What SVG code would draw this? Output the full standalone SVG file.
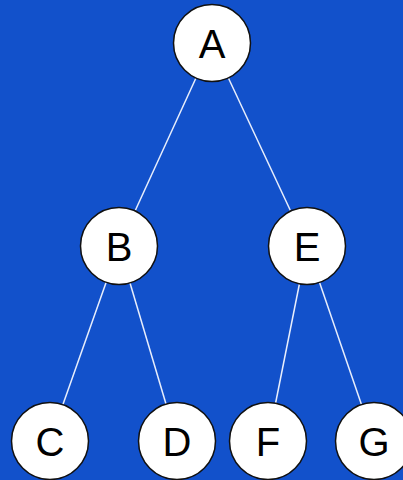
<svg xmlns="http://www.w3.org/2000/svg" width="403" height="480" viewBox="0 0 403 480">
  <style>
    .edge { stroke: #e8eefc; stroke-width: 1.5; fill: none; }
    .node circle { fill: #ffffff; stroke: #111111; stroke-width: 1.5; }
    .node text { font-family: "Liberation Sans", Arial, sans-serif; font-size: 40px; fill: #000000; text-anchor: middle; dominant-baseline: central; }
  </style>
  <rect x="0" y="0" width="403" height="480" fill="#1251cb"/>
  <g id="connectors">
    <line class="edge" x1="212" y1="43" x2="119" y2="246"/>
    <line class="edge" x1="212" y1="43" x2="307" y2="246"/>
    <line class="edge" x1="119" y1="246" x2="50" y2="441"/>
    <line class="edge" x1="119" y1="246" x2="177" y2="441"/>
    <line class="edge" x1="307" y1="246" x2="268" y2="441"/>
    <line class="edge" x1="307" y1="246" x2="374" y2="441"/>
  </g>
  <g id="node-A" class="node"><circle cx="212" cy="43" r="38.5"/><text x="212" y="44">A</text></g>
  <g id="node-B" class="node"><circle cx="119" cy="246" r="38.5"/><text x="119" y="247">B</text></g>
  <g id="node-E" class="node"><circle cx="307" cy="246" r="38.5"/><text x="307" y="247">E</text></g>
  <g id="node-C" class="node"><circle cx="50" cy="441" r="38.5"/><text x="50" y="442">C</text></g>
  <g id="node-D" class="node"><circle cx="177" cy="441" r="38.5"/><text x="177" y="442">D</text></g>
  <g id="node-F" class="node"><circle cx="268" cy="441" r="38.5"/><text x="268" y="442">F</text></g>
  <g id="node-G" class="node"><circle cx="374" cy="441" r="38.5"/><text x="374" y="442">G</text></g>
</svg>
